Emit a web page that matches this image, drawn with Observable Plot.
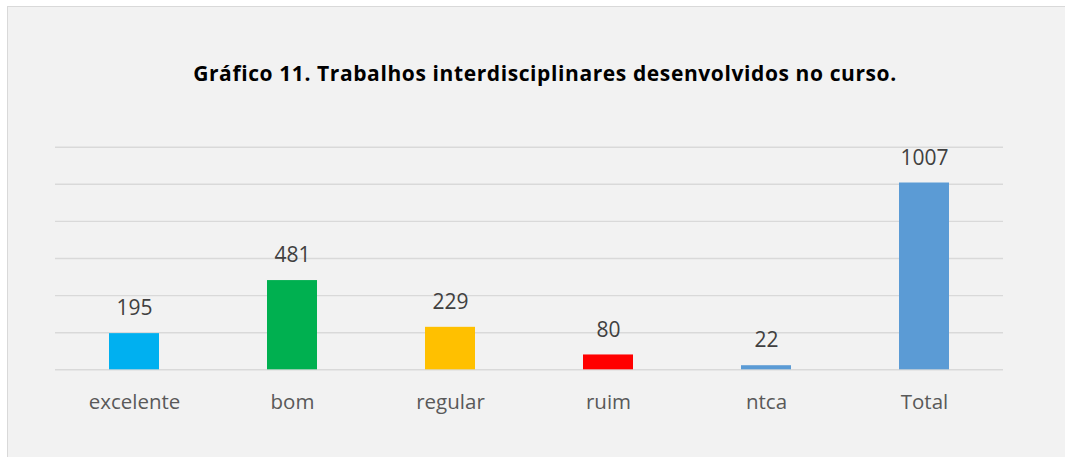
<!DOCTYPE html>
<html>
<head>
<meta charset="utf-8">
<script src="https://cdn.jsdelivr.net/npm/d3@7"></script>
<script src="https://cdn.jsdelivr.net/npm/@observablehq/plot@0.6"></script>
<style>
  html, body { margin: 0; padding: 0; background: #ffffff; overflow: hidden; width: 1065px; height: 457px; }
  #frame { position: absolute; left: 7px; top: 6px; width: 1072px; height: 470px; border: 1px solid #d9d9d9; background: #f2f2f2; overflow: hidden; }
  #title { position: absolute; left: 0; top: 0; width: 1074px; text-align: center; font-family: "Open Sans", sans-serif; font-weight: 700; font-size: 21px; letter-spacing: 0.6px; color: #000; line-height: 1; }
  #chart { position: absolute; left: 0; top: 0; }
  #title span { display: inline-block; }
</style>
</head>
<body>
<div id="frame">
  <div id="chart"></div>
  <div id="title"><span id="tt">Gráfico 11. Trabalhos interdisciplinares desenvolvidos no curso.</span></div>
</div>
<script>
const categories = ["excelente", "bom", "regular", "ruim", "ntca", "Total"];
const values = [195, 481, 229, 80, 22, 1007];
const colors = ["#00B0F0", "#00B050", "#FFC000", "#FF0000", "#5B9BD5", "#5B9BD5"];
const gridTicks = [0, 200, 400, 600, 800, 1000, 1200];

const data = categories.map((c, i) => ({category: c, value: values[i], color: colors[i]}));

const chart = Plot.plot({
  width: 1057,
  height: 450,
  marginLeft: 47,
  marginRight: 62,
  marginTop: 139.7,
  marginBottom: 87.7,
  style: {background: "transparent", fontFamily: "'Open Sans', sans-serif"},
  x: {domain: categories, paddingInner: 0.684, paddingOuter: 0.342, label: null},
  y: {domain: [0, 1200], axis: null},
  marks: [
    Plot.ruleY(gridTicks, {stroke: "#d9d9d9", strokeWidth: 1.4}),
    Plot.barY(data, {x: "category", y: "value", fill: "color"}),
    Plot.text(data, {x: "category", y: "value", text: d => String(d.value), dy: -25, lineAnchor: "middle", fontSize: 21, fill: "#404040"}),
    Plot.axisX({tickSize: 0, tickPadding: 25, fontSize: 20.5, fill: "#595959", label: null})
  ]
});
document.getElementById("chart").appendChild(chart);

// position title: baseline near page y=81.7
const title = document.getElementById("title");
title.style.top = (81.7 - 7 - 21 * 0.888) + "px";
</script>
</body>
</html>
